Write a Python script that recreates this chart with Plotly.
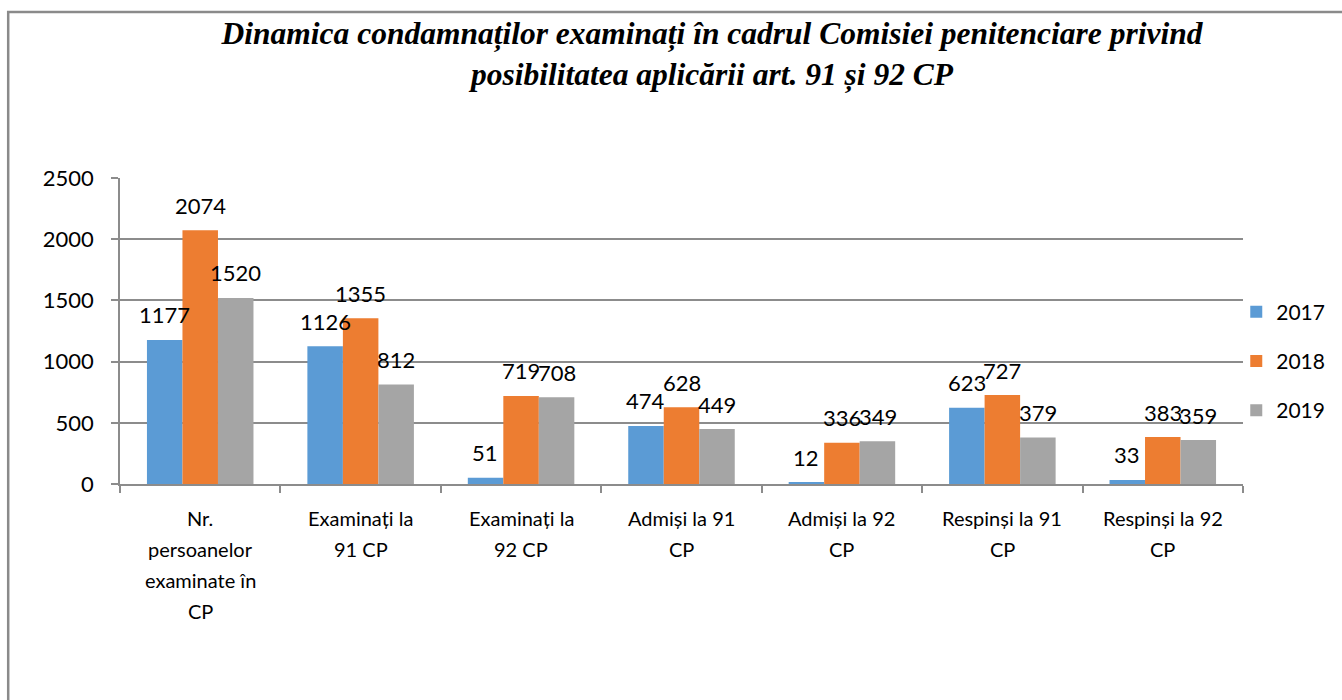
import plotly.graph_objects as go

categories = ["Nr.<br>persoanelor<br>examinate în<br>CP", "Examinați la<br>91 CP", "Examinați la<br>92 CP",
              "Admiși la 91<br>CP", "Admiși la 92<br>CP", "Respinși la 91<br>CP", "Respinși la 92<br>CP"]
series_names = ["2017", "2018", "2019"]
values_2017 = [1177, 1126, 51, 474, 12, 623, 33]
values_2018 = [2074, 1355, 719, 628, 336, 727, 383]
values_2019 = [1520, 812, 708, 449, 349, 379, 359]
y_ticks = [0, 500, 1000, 1500, 2000, 2500]

colors = ["#5B9BD5", "#ED7D31", "#A5A5A5"]
series = [values_2017, values_2018, values_2019]

fig = go.Figure()
for i, (name, vals) in enumerate(zip(series_names, series)):
    fig.add_trace(go.Bar(x=categories, y=vals, name=name, marker_color=colors[i],
                         marker_line_width=0, legendgroup=name))

bar_px = 1125 / 7 * (1 - 0.336) / 3
annotations = []
for i, vals in enumerate(series):
    for c, v in zip(categories, vals):
        annotations.append(dict(x=c, y=v, xref="x", yref="y", text=str(v), showarrow=False,
                                xshift=(i - 1) * bar_px, yshift=25, yanchor="middle",
                                font=dict(family="Lato", size=22, color="#000000")))

# category labels, one line per annotation (to match the wider line spacing)
for c in categories:
    for k, line in enumerate(c.split("<br>")):
        annotations.append(dict(x=c, y=0, xref="x", yref="paper", text=line, showarrow=False,
                                yanchor="middle", yshift=-34 - 31 * k,
                                font=dict(family="Lato", size=20, color="#000000")))

fig.update_layout(
    width=1342, height=700,
    margin=dict(l=120, r=97, t=178, b=216),
    paper_bgcolor="white", plot_bgcolor="white",
    barmode="group", bargap=0.336, bargroupgap=0,
    title=dict(text="<b><i>Dinamica condamnaților examinați în cadrul Comisiei penitenciare privind<br>posibilitatea aplicării art. 91 și 92 CP</i></b>",
               x=712 / 1342, xanchor="center", xref="container",
               y=1 - 44 / 700, yanchor="top", yref="container",
               font=dict(family="Liberation Serif", size=31.5, color="#000000")),
    font=dict(family="Lato", size=21, color="#000000"),
    showlegend=True,
    legend=dict(x=0.994, xanchor="left", y=0.402, yanchor="middle", tracegroupgap=19,
                font=dict(family="Lato", size=21, color="#000000"), bgcolor="rgba(0,0,0,0)"),
    annotations=annotations,
    shapes=[dict(type="rect", xref="paper", yref="paper",
                 x0=(8 - 120) / 1125, x1=1.3, y0=-1.0, y1=(484 - 12) / 306,
                 line=dict(color="#8A8A8A", width=2.5), fillcolor="rgba(0,0,0,0)", layer="below")],
)
fig.update_xaxes(showline=True, linecolor="#8C8C8C", linewidth=1.5, ticks="outside",
                 tickson="boundaries", ticklen=7, tickcolor="#8C8C8C", tickwidth=1.5,
                 showgrid=False, showticklabels=False)
fig.update_yaxes(range=[0, 2500], tickvals=y_ticks, showgrid=True, gridcolor="#8C8C8C", gridwidth=1.5,
                 showline=True, linecolor="#8C8C8C", linewidth=1.5, ticks="outside", ticklen=7,
                 tickcolor="#8C8C8C", tickwidth=1.5, zeroline=False, ticklabelstandoff=13,
                 tickfont=dict(family="Lato", size=22, color="#000000"))

fig.write_html("out.html", config={"displayModeBar": False},
               post_script="document.body.style.margin='0';")
